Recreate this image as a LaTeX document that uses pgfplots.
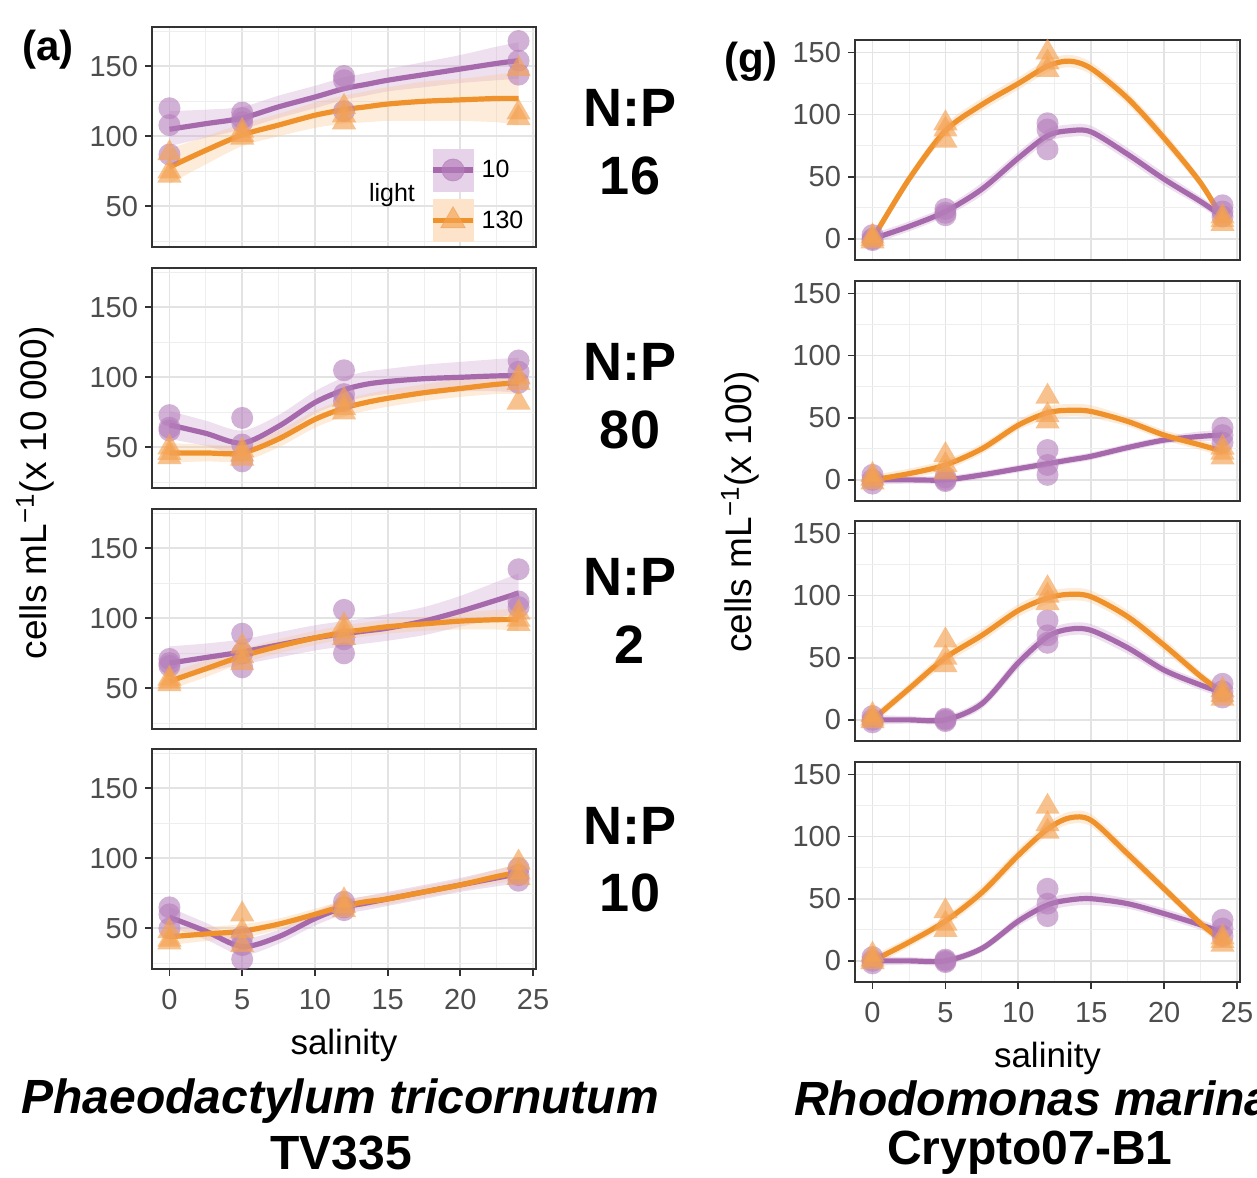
\documentclass[border=0pt]{standalone}
\usepackage{pgfplots}
\pgfplotsset{compat=1.18}
\usepackage{pgfplotstable}
\usepgfplotslibrary{fillbetween}
\usepackage{fontspec}
\setmainfont{Liberation Sans}

\definecolor{lineP}{RGB}{166,106,172}
\definecolor{lineO}{RGB}{240,146,44}
\definecolor{ptP}{RGB}{180,125,186}
\definecolor{ptO}{RGB}{244,162,82}
\definecolor{bandP}{RGB}{205,165,210}
\definecolor{bandO}{RGB}{250,200,150}
\definecolor{tickgray}{RGB}{77,77,77}
\definecolor{framegray}{RGB}{51,51,51}

% points: salinity, light 10 (p), light 130 (o)
\pgfplotstableread{
x p o
0 120 88
0 108 75
0 87 72
5 117 104
5 113 101
5 110 99
12 143 121
12 140 115
12 118 110
24 168 148
24 154 117
24 144 113
}\ptsLa
\pgfplotstableread{
x p o
0 73 50
0 64 46
0 62 43
5 71 48
5 52 45
5 40 42
12 105 84
12 88 78
12 83 75
24 112 100
24 104 96
24 96 82
}\ptsLb
\pgfplotstableread{
x p o
0 71 57
0 68 55
0 66 53
5 89 80
5 75 73
5 65 68
12 106 95
12 85 91
12 75 86
24 135 104
24 112 99
24 108 96
}\ptsLc
\pgfplotstableread{
x p o
0 65 48
0 60 42
0 50 40
5 44 60
5 38 48
5 28 38
12 69 70
12 65 66
12 63 63
24 93 97
24 88 90
24 84 86
}\ptsLd
\pgfplotstableread{
x p o
0 3 2
0 0 0
0 -1 -2
5 24 93
5 21 88
5 19 79
12 93 150
12 88 142
12 72 136
24 27 18
24 22 15
24 18 12
}\ptsRa
\pgfplotstableread{
x p o
0 4 4
0 0 1
0 -3 -2
5 2 20
5 0 12
5 -1 6
12 24 67
12 12 52
12 4 47
24 42 26
24 36 22
24 30 18
}\ptsRb
\pgfplotstableread{
x p o
0 3 4
0 0 1
0 -2 -1
5 1 64
5 0 50
5 -1 44
12 80 106
12 68 100
12 62 94
24 29 24
24 23 20
24 18 17
}\ptsRc
\pgfplotstableread{
x p o
0 3 5
0 0 1
0 -2 -1
5 1 40
5 0 30
5 -1 25
12 58 124
12 46 110
12 36 104
24 33 19
24 26 16
24 20 13
}\ptsRd

% smoothed fits with bands
\pgfplotstableread{
x p pl ph o ol oh
0 105 93 118 78 66 91
2.5 109 99 119 90 80 100
5 113 105 121 101 93 109
7.5 121 113 129 108 100 116
10 128 120 136 115 106 124
12 134 126 142 119 109 129
13.5 137 129 145 121 110 132
15 140 132 148 123 111 135
17.5 144 135 153 125 111 139
20 148 138 158 126 111 141
22.5 152 140 164 127 110 144
24 154 141 167 127 108 146
}\fitLa
\pgfplotstableread{
x p pl ph o ol oh
0 66 56 76 46 39 53
2.5 60 51 69 46 40 52
5 53 45 62 46 40 52
7.5 65 57 73 56 50 62
10 82 74 90 70 64 76
12 91 82 100 78 72 84
13.5 95 86 104 82 76 88
15 97 88 106 85 79 91
17.5 99 89 109 89 83 95
20 100 90 111 92 86 99
22.5 101 90 113 95 88 102
24 101 89 114 96 88 104
}\fitLb
\pgfplotstableread{
x p pl ph o ol oh
0 68 56 80 55 49 61
2.5 72 62 82 64 58 70
5 76 67 85 73 68 78
7.5 81 72 90 80 75 85
10 86 77 95 86 81 91
12 89 80 98 90 85 95
13.5 91 82 100 92 87 97
15 93 84 103 94 89 99
17.5 98 88 108 96 91 101
20 105 94 116 98 92 104
22.5 113 100 126 99 92 106
24 118 104 132 99 91 107
}\fitLc
\pgfplotstableread{
x p pl ph o ol oh
0 58 51 65 44 38 50
2.5 48 42 54 46 41 51
5 37 31 43 48 43 53
7.5 44 39 49 53 49 57
10 57 52 62 60 56 64
12 65 60 70 66 62 70
13.5 68 63 73 69 65 73
15 71 66 76 71 67 75
17.5 76 71 81 76 72 80
20 81 76 86 81 77 85
22.5 86 80 92 87 82 92
24 89 82 96 90 84 96
}\fitLd
\pgfplotstableread{
x p pl ph o ol oh
0 0 -4 4 0 -4 4
2.5 10 6 14 48 44 52
5 22 18 26 87 82 92
7.5 40 35 45 108 103 113
10 65 60 70 125 120 130
12 83 78 88 139 134 144
13.5 87 82 92 143 138 148
15 86 81 91 137 132 142
17.5 68 63 73 113 108 118
20 48 43 53 81 76 86
22.5 30 26 34 45 41 49
24 18 14 22 16 12 20
}\fitRa
\pgfplotstableread{
x p pl ph o ol oh
0 0 -4 4 0 -4 4
2.5 0 -3 3 5 1 9
5 0 -3 3 12 8 16
7.5 4 1 7 25 21 29
10 9 6 12 44 40 48
12 13 10 16 54 49 59
13.5 16 13 19 56 51 61
15 19 16 22 55 50 60
17.5 26 23 29 47 43 51
20 32 29 35 36 32 40
22.5 35 31 39 28 24 32
24 36 32 40 23 19 27
}\fitRb
\pgfplotstableread{
x p pl ph o ol oh
0 0 -4 4 0 -4 4
2.5 0 -3 3 25 21 29
5 0 -3 3 50 45 55
7.5 13 9 17 68 63 73
10 46 41 51 88 83 93
12 67 62 72 98 93 103
13.5 73 68 78 101 96 106
15 72 67 77 99 94 104
17.5 58 53 63 83 78 88
20 40 36 44 60 55 65
22.5 28 24 32 35 31 39
24 22 18 26 22 18 26
}\fitRc
\pgfplotstableread{
x p pl ph o ol oh
0 0 -4 4 0 -4 4
2.5 0 -3 3 15 11 19
5 0 -3 3 32 28 36
7.5 10 7 13 55 50 60
10 32 28 36 85 80 90
12 45 40 50 106 101 111
13.5 49 44 54 115 110 120
15 50 45 55 113 108 118
17.5 46 42 50 86 81 91
20 38 34 42 58 54 62
22.5 29 25 33 30 26 34
24 23 19 27 16 12 20
}\fitRd

\pgfplotsset{
  panel/.style={
    scale only axis, anchor=south west,
    xmin=-1.2, xmax=25.2,
    xtick={0,5,...,25}, minor xtick={2.5,7.5,...,22.5},
    grid=both,
    major grid style={draw=gray!22, line width=0.9pt},
    minor grid style={draw=gray!13, line width=0.45pt},
    tick align=outside, tick pos=left,
    major tick length=3.5pt, minor tick length=0pt,
    tick style={framegray, line width=0.9pt},
    minor tick style={draw=none},
    axis line style={framegray, line width=0.7pt},
    /pgf/number format/assume math mode=true,
    ticklabel style={font=\fontsize{14.5}{15}\selectfont, text=tickgray},
    xticklabel style={yshift=-3pt},
    xlabel style={font=\fontsize{17.5}{18}\selectfont, yshift=-3pt},
  },
  leftp/.style={panel, width=192pt, height=110pt, ymin=21, ymax=178,
    ytick={50,100,150}, minor ytick={25,75,125,175}},
  rightp/.style={panel, width=192.5pt, height=110pt, ymin=-17, ymax=160,
    ytick={0,50,100,150}, minor ytick={25,75,125}},
  topp/.style={xticklabels={}, xtick style={draw=none}},
}

\newcommand{\drawpanel}[3]{%
  \addplot[forget plot, only marks, mark=*, mark size=5.5pt, color=ptP,
    mark options={fill=ptP, draw opacity=0, fill opacity=0.6}] table[x=x,y=p]{#1};
  \addplot[forget plot, only marks, mark=triangle*, mark size=7pt, color=ptO,
    mark options={fill=ptO, draw opacity=0, fill opacity=0.65}] table[x=x,y=o]{#1};
  \addplot[forget plot, draw=none, smooth, name path=pl#3] table[x=x,y=pl]{#2};
  \addplot[forget plot, draw=none, smooth, name path=ph#3] table[x=x,y=ph]{#2};
  \addplot[forget plot, fill=bandP, fill opacity=0.35, draw=none] fill between[of=pl#3 and ph#3];
  \addplot[forget plot, draw=none, smooth, name path=ol#3] table[x=x,y=ol]{#2};
  \addplot[forget plot, draw=none, smooth, name path=oh#3] table[x=x,y=oh]{#2};
  \addplot[forget plot, fill=bandO, fill opacity=0.35, draw=none] fill between[of=ol#3 and oh#3];
  \addplot[forget plot, lineP, line width=2.6pt, smooth] table[x=x,y=p]{#2};
  \addplot[forget plot, lineO, line width=2.6pt, smooth] table[x=x,y=o]{#2};
}

\begin{document}
\begin{tikzpicture}

% left column: Phaeodactylum tricornutum
\begin{axis}[leftp, topp, at={(76pt,465pt)},
  legend style={at={(rel axis cs:0.724,0.02)}, anchor=south west, draw=none, fill=none,
    font=\fontsize{12.5}{13}\selectfont, row sep=4pt, inner sep=0pt, nodes={inner sep=3pt}},
  legend cell align=left]
  \drawpanel{\ptsLa}{\fitLa}{la}
  \addlegendimage{legend image code/.code={
    \fill[bandP!50] (0pt,-10.5pt) rectangle (20pt,10.5pt);
    \draw[lineP, line width=2.6pt] (0pt,0pt) -- (20pt,0pt);
    \fill[ptP, opacity=0.65] (10pt,0pt) circle (5.5pt);}}
  \addlegendentry{10}
  \addlegendimage{legend image code/.code={
    \fill[bandO!50] (0pt,-10.5pt) rectangle (20pt,10.5pt);
    \draw[lineO, line width=2.6pt] (0pt,0pt) -- (20pt,0pt);
    \fill[ptO, opacity=0.65] (10pt,7pt) -- (3.9pt,-3.5pt) -- (16.1pt,-3.5pt) -- cycle;}}
  \addlegendentry{130}
\end{axis}
\begin{axis}[leftp, topp, at={(76pt,344.5pt)}]
  \drawpanel{\ptsLb}{\fitLb}{lb}
\end{axis}
\begin{axis}[leftp, topp, at={(76pt,224pt)}]
  \drawpanel{\ptsLc}{\fitLc}{lc}
\end{axis}
\begin{axis}[leftp, at={(76pt,104pt)}, xlabel={salinity}]
  \drawpanel{\ptsLd}{\fitLd}{ld}
\end{axis}

% right column: Rhodomonas marina
\begin{axis}[rightp, topp, at={(427.5pt,458.5pt)}]
  \drawpanel{\ptsRa}{\fitRa}{ra}
\end{axis}
\begin{axis}[rightp, topp, at={(427.5pt,338pt)}]
  \drawpanel{\ptsRb}{\fitRb}{rb}
\end{axis}
\begin{axis}[rightp, topp, at={(427.5pt,218pt)}]
  \drawpanel{\ptsRc}{\fitRc}{rc}
\end{axis}
\begin{axis}[rightp, at={(427.5pt,97.5pt)}, xlabel={salinity}]
  \drawpanel{\ptsRd}{\fitRd}{rd}
\end{axis}

\node[font=\fontsize{12.5}{13}\selectfont] at (196pt,491pt) {light};

\node[font=\fontsize{21}{21}\selectfont\bfseries] at (24pt,563.5pt) {(a)};
\node[font=\fontsize{21}{21}\selectfont\bfseries] at (375.5pt,557.5pt) {(g)};

\node[rotate=90, font=\fontsize{18.5}{19}\selectfont] at (17.5pt,342pt) {cells mL\textsuperscript{−1}(x 10 000)};
\node[rotate=90, font=\fontsize{18.5}{19}\selectfont] at (370pt,332.5pt) {cells mL\textsuperscript{−1}(x 100)};

\begin{scope}[every node/.style={font=\fontsize{27}{27}\selectfont\bfseries}]
  \node at (315pt,534.5pt) {N:P};  \node at (315pt,500.5pt) {16};
  \node at (315pt,407.5pt) {N:P};  \node at (315pt,373.5pt) {80};
  \node at (315pt,300pt) {N:P};    \node at (315pt,266pt) {2};
  \node at (315pt,175.5pt) {N:P};  \node at (315pt,142pt) {10};
\end{scope}

\begin{scope}[every node/.style={font=\fontsize{24}{24}\selectfont\bfseries, inner sep=0pt}]
  \node at (170pt,38pt) {\itshape Phaeodactylum tricornutum};
  \node at (170.5pt,12pt) {TV335};
  \node at (516.5pt,39.5pt) {\itshape Rhodomonas marina};
  \node at (515pt,12pt) {Crypto07-B1};
\end{scope}

\pgfresetboundingbox
\path[use as bounding box] (0pt,0pt) rectangle (628.5pt,588.5pt);
\end{tikzpicture}
\end{document}
